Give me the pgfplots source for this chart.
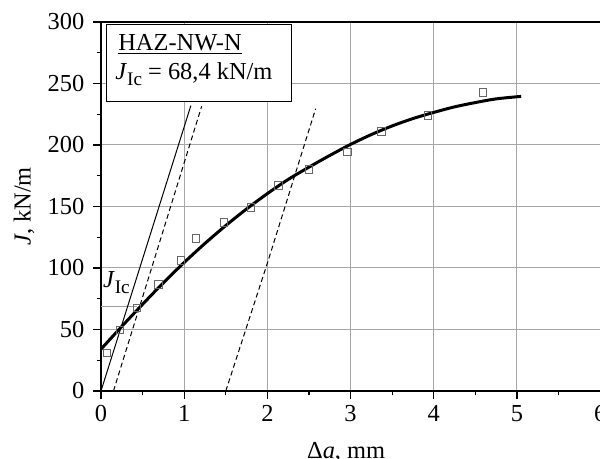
\documentclass[border=0pt]{standalone}
\usepackage{fontspec}
\setmainfont{Liberation Serif}
\usepackage{pgfplots}
\pgfplotsset{compat=1.18}
\newcommand{\JIc}{\textit{J}\raisebox{-3pt}{\fontsize{9.6}{11}\selectfont Ic}}

\begin{document}
\begin{tikzpicture}
\begin{axis}[
    scale only axis,
    width=249.6pt, height=184.5pt,
    xmin=0, xmax=6, ymin=0, ymax=300,
    axis x line=bottom, axis y line=left,
    axis line style={-, line width=1pt},
    xtick={0,1,...,6}, ytick={0,50,...,300},
    minor x tick num=1, minor y tick num=1,
    tick align=outside,
    major tick length=3.8pt, minor tick length=2.2pt,
    tick style={black, line width=0.6pt},
    grid=major,
    grid style={gray!70, line width=0.5pt},
    font=\fontsize{12.2}{14}\selectfont,
    /pgf/number format/assume math mode=true,
    yticklabel style={xshift=-1pt},
    xlabel={Δ\textit{a}, mm},
    ylabel={\textit{J}, kN/m},
    xlabel style={at={(axis description cs:0.491,0)}, anchor=north, yshift=-25.5pt, inner sep=0pt},
    ylabel style={at={(axis description cs:-0.154,0.5)}, anchor=center},
    clip=true,
]
% J_Ic level
\addplot[gray!75, line width=0.6pt] coordinates {(0,68.4) (0.43,68.4)};
% blunting line
\addplot[black, line width=0.5pt] coordinates {(0,0) (1.08,232)};
% exclusion lines
\addplot[black, line width=0.5pt, dash pattern=on 2.5pt off 1.6pt] coordinates {(0.15,0) (0.70,120) (1.21,231.5)};
\addplot[black, line width=0.5pt, dash pattern=on 2.5pt off 1.6pt] coordinates {(1.5,0) (2.0,104) (2.58,229.5)};
% measured points
\addplot[only marks, mark=square, mark size=1.9pt, gray!80!black, mark options={line width=0.45pt}] coordinates {
  (0.07,31) (0.23,49.5) (0.43,67.5) (0.69,86.5) (0.96,106) (1.14,124)
  (1.48,137) (1.80,149) (2.13,167) (2.50,180) (2.96,194.5) (3.37,211)
  (3.93,224) (4.59,242.5)
};
% R-curve fit
\addplot[black, line width=1.5pt, smooth] coordinates {
  (0,34) (0.25,52.5) (0.5,70.5) (0.75,88) (1.0,104.5) (1.25,120)
  (1.5,134.5) (1.75,148) (2.0,160.5) (2.25,172) (2.5,182) (2.75,191.5)
  (3.0,200.5) (3.25,208.5) (3.5,215.5) (3.75,221.5) (4.0,226.5)
  (4.25,231) (4.5,234.5) (4.75,237.5) (5.05,239.5)
};
% top frame line
\draw[line width=1pt] (rel axis cs:0,1) -- (rel axis cs:1,1);
% label box
\draw[black, line width=0.5pt, fill=white] (axis cs:0.068,298.1) rectangle (axis cs:2.295,235.2);
\node[anchor=base west, inner sep=0pt] at (axis cs:0.204,277.2) {\underline{HAZ-NW-N}};
\node[anchor=base west, inner sep=0pt] at (axis cs:0.168,253) {\JIc{} = 68,4 kN/m};
\node[anchor=base west, inner sep=0pt] at (axis cs:0.02,84) {\JIc};
\end{axis}
\pgfresetboundingbox
\useasboundingbox (-50.5pt,-34pt) rectangle (249.5pt,195.5pt);
\end{tikzpicture}
\end{document}
